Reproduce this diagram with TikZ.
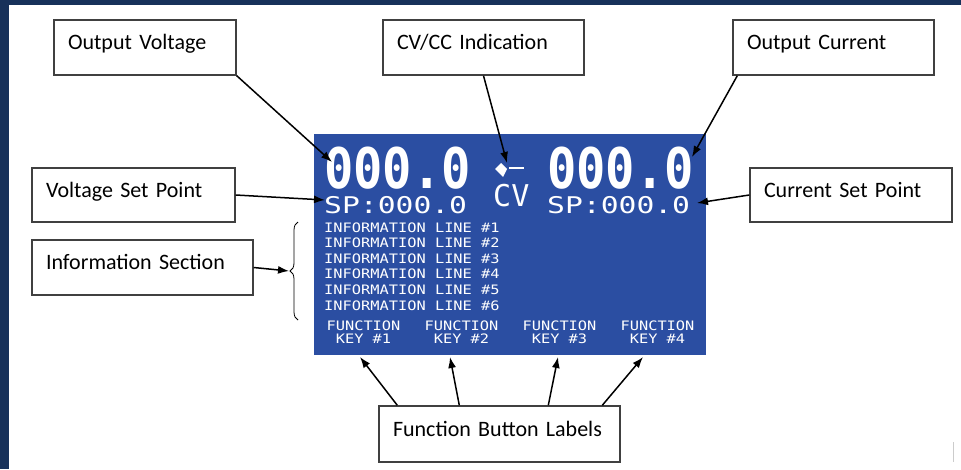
\documentclass[tikz,border=0pt]{standalone}
\usepackage{fontspec}
\setmainfont{Carlito}
\newfontfamily\lcdfont{DejaVu Sans Mono}
\usetikzlibrary{arrows.meta,decorations.pathreplacing}
\definecolor{navy}{HTML}{17315A}
\definecolor{lcdblue}{HTML}{2B4EA2}
\definecolor{boxgray}{HTML}{404040}

\begin{document}
\begin{tikzpicture}[x=1pt,y=-1pt,
    callout/.style={draw=boxgray, line width=1.4pt, fill=white, font=\fontsize{22}{26}\selectfont,
      inner xsep=14pt, inner ysep=0pt, align=left, text height=15pt, text depth=11pt},
    lcd/.style={text=white, inner sep=0pt, anchor=base west},
    lcdkey/.style={text=white, inner sep=0pt, anchor=base, font=\lcdfont\fontsize{13}{13}\selectfont},
    arr/.style={-{Latex[length=11pt,width=8pt]}, line width=1.5pt}]

            \useasboundingbox (0,0) rectangle (961,469);

            % Frame of the page
            \fill[navy] (0,0) rectangle (961,5);
            \fill[navy] (0,0) rectangle (9,469);
            \draw[gray!40, line width=1pt] (953,442) -- (953,462);

            % The display
            \node[fill=lcdblue, minimum width=392pt, minimum height=221pt, inner sep=0pt] (screen) at (510,244.5) {};

            % Readings
            \node[lcd, font=\lcdfont\bfseries\fontsize{56}{56}\selectfont] (voltVal) at (324,188.3) {\scalebox{.87}[1]{000.0}};
            \node[lcd, font=\lcdfont\bfseries\fontsize{56}{56}\selectfont] (currVal) at (547,188.3) {\scalebox{.87}[1]{000.0}};
            \node[lcd, font=\lcdfont\fontsize{23}{23}\selectfont] (voltSP) at (324,213.3) {\scalebox{1.29}[1]{SP:000.0}};
            \node[lcd, font=\lcdfont\fontsize{23}{23}\selectfont] (currSP) at (547,213.3) {\scalebox{1.29}[1]{SP:000.0}};
            \node[lcd, font=\lcdfont\fontsize{30}{30}\selectfont] (mode) at (493,206.7) {CV};

            % Mode pointer
            \fill[white] (495,169) -- (501,163) -- (507,169) -- (503,177) -- cycle;
            \fill[white] (509,166.5) rectangle (524,169);

            % Information lines
            \foreach \i [evaluate=\i as \yy using 232+15.6*(\i-1)] in {1,...,6} {
                \node[lcd, font=\lcdfont\fontsize{13}{13}\selectfont] (info\i) at (324,\yy)
                    {\scalebox{1.18}[1]{INFORMATION LINE \#\i}};
            }

            % Function keys
            \foreach \k in {1,2,3,4} {
                \node[lcdkey] (fn\k) at ({363.5+98*(\k-1)},330.7) {\scalebox{1.18}[1]{FUNCTION}};
                \node[lcdkey] (key\k) at ({363.5+98*(\k-1)},343.3) {\scalebox{1.18}[1]{KEY \#\k}};
            }

            % Callouts
            \node[callout, text width=154pt, minimum height=55pt] (outV) at (145,47.5) {Output Voltage};
            \node[callout, text width=173pt, minimum height=55pt] (cvcc) at (483.5,47.5) {CV/CC Indication};
            \node[callout, text width=173pt, minimum height=55pt] (outI) at (833.5,47.5) {Output Current};
            \node[callout, text width=175pt, minimum height=54pt] (vsp) at (133.5,195) {Voltage Set Point};
            \node[callout, text width=193pt, minimum height=55pt] (info) at (142.5,267.5) {Information Section};
            \node[callout, text width=174pt, minimum height=54pt] (csp) at (851,195) {Current Set Point};
            \node[callout, text width=213pt, minimum height=56pt] (fbl) at (499.5,434) {Function Button Labels};

            % Brace round the information lines
            \draw[decorate, decoration={brace, amplitude=8pt}, line width=0.8pt] (298,320) -- (298,222);
            \coordinate (braceTip) at (289,271);

            % Arrow targets
            \coordinate (tipV) at (332,162);
            \coordinate (tipMode) at (507,163);
            \coordinate (tipI) at (692,157);
            \coordinate (tipVSP) at (325,200);
            \coordinate (tipCSP) at (697,203);
            \coordinate (fk1) at (360,357);
            \coordinate (fk2) at (450,357);
            \coordinate (fk3) at (558,357);
            \coordinate (fk4) at (643,357);

            % Arrows
            \draw[arr] (outV.south east) -- (tipV);
            \draw[arr] (cvcc.south) -- (tipMode);
            \draw[arr] ([xshift=5pt]outI.south west) -- (tipI);
            \draw[arr] (vsp.east) -- (tipVSP);
            \draw[arr] (csp.west) -- (tipCSP);
            \draw[arr] (info.east) -- (braceTip);
            \foreach \k/\dx in {1/19,2/81,3/170,4/224} {
                \draw[arr] ([xshift=\dx pt]fbl.north west) -- (fk\k);
            }

\end{tikzpicture}
\end{document}
